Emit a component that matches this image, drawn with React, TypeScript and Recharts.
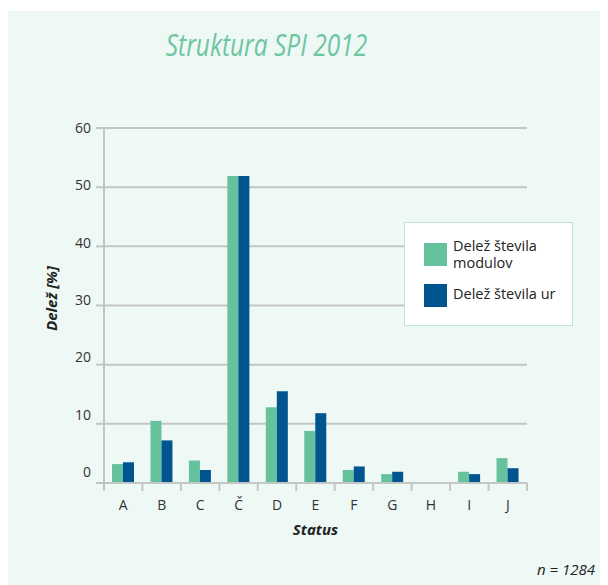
import { BarChart, Bar, XAxis, YAxis, CartesianGrid, Legend, Label } from "recharts";

const categories = ["A", "B", "C", "Č", "D", "E", "F", "G", "H", "I", "J"];
const moduleShare = [3.2, 10.5, 3.8, 51.9, 12.8, 8.8, 2.2, 1.5, 0, 1.9, 4.2];
const hourShare = [3.5, 7.2, 2.2, 51.9, 15.5, 11.8, 2.8, 1.9, 0, 1.5, 2.5];
const yTicks = [0, 10, 20, 30, 40, 50, 60];
const seriesNames = ["Delež števila modulov", "Delež števila ur"];

const GREEN = "#65c29d";
const BLUE = "#005590";
const GRID = "#c3c6c5";
const TEXT = "#333";
const FONT = "'Open Sans', sans-serif";

const data = categories.map((c, i) => ({
  status: c,
  moduli: moduleShare[i],
  ure: hourShare[i],
}));

function XTick(props: any) {
  const { x, y, payload, index, visibleTicksCount } = props;
  const band = 423 / (visibleTicksCount || categories.length);
  const last = index === (visibleTicksCount || categories.length) - 1;
  return (
    <g>
      <line x1={x - band / 2} x2={x - band / 2} y1={y} y2={y + 8} stroke={GRID} strokeWidth={2} />
      {last && <line x1={x + band / 2} x2={x + band / 2} y1={y} y2={y + 8} stroke={GRID} strokeWidth={2} />}
      <text x={x} y={y + 27} textAnchor="middle" fontSize={14} fill={TEXT} fontFamily={FONT}>
        {payload.value}
      </text>
    </g>
  );
}

function YTick(props: any) {
  const { x, y, payload } = props;
  const shift = -((60 - payload.value) / 10) * 1.8;
  return (
    <text x={x} y={y + shift} dy="0.35em" textAnchor="end" fontSize={14} fill={TEXT} fontFamily={FONT}>
      {payload.value}
    </text>
  );
}

function LegendBox() {
  return (
    <div
      style={{
        position: "relative",
        width: 169,
        height: 104,
        boxSizing: "border-box",
        background: "#fff",
        border: "1px solid #bfe5d6",
        fontFamily: FONT,
        fontSize: 14.5,
        lineHeight: "17px",
        color: "#222",
      }}
    >
      {seriesNames.map((name, i) => (
        <div key={name} style={{ position: "absolute", left: 19, top: i === 0 ? 20 : 61 }}>
          <div
            style={{
              position: "absolute",
              left: 0,
              top: 0,
              width: 23,
              height: 23,
              background: i === 0 ? GREEN : BLUE,
            }}
          />
          <div style={{ position: "absolute", left: 29, top: i === 0 ? -6 : 1, width: i === 0 ? 100 : 130 }}>
            {name}
          </div>
        </div>
      ))}
    </div>
  );
}

export default function App() {
  return (
    <div style={{ paddingTop: 3 }}>
      <div style={{ position: "relative", width: 600, height: 574, background: "#eef8f5" }}>
        <div
          style={{
            position: "absolute",
            left: 0,
            width: 517,
            top: 18,
            textAlign: "center",
            fontFamily: FONT,
            fontStyle: "italic",
            fontSize: 31,
            lineHeight: "31px",
            color: "#6cc6a0",
          }}
        >
          <span style={{ display: "inline-block", transform: "scaleX(0.79)", transformOrigin: "center" }}>
            Struktura SPI 2012
          </span>
        </div>
        <BarChart
          width={600}
          height={574}
          data={data}
          margin={{ top: 117, right: 81, bottom: 72, left: 46 }}
          barGap={0}
          barSize={11}
        >
          <CartesianGrid vertical={false} stroke={GRID} strokeWidth={2} />
          <XAxis
            dataKey="status"
            height={30}
            tickSize={0}
            tickMargin={0}
            tickLine={false}
            axisLine={{ stroke: GRID, strokeWidth: 2 }}
            tick={<XTick />}
            interval={0}
          >
            <Label
              content={({ viewBox }: any) => (
                <text
                  x={viewBox.x + viewBox.width / 2}
                  y={viewBox.y + 52}
                  textAnchor="middle"
                  fontSize={15}
                  fontWeight="bold"
                  fontStyle="italic"
                  fill="#222"
                  fontFamily={FONT}
                >
                  Status
                </text>
              )}
            />
          </XAxis>
          <YAxis
            width={50}
            domain={[0, 60]}
            ticks={yTicks}
            interval={0}
            tickSize={8}
            tickMargin={5}
            tickLine={{ stroke: GRID, strokeWidth: 2 }}
            axisLine={{ stroke: GRID, strokeWidth: 2 }}
            tick={<YTick />}
          >
            <Label
              content={({ viewBox }: any) => {
                const cx = viewBox.x - 3;
                const cy = viewBox.y + viewBox.height / 2 - 7;
                return (
                  <text
                    x={cx}
                    y={cy}
                    transform={`rotate(-90 ${cx} ${cy})`}
                    textAnchor="middle"
                    dominantBaseline="central"
                    fontSize={15}
                    fontWeight="bold"
                    fontStyle="italic"
                    fill="#222"
                    fontFamily={FONT}
                  >
                    Delež [%]
                  </text>
                );
              }}
            />
          </YAxis>
          <Legend
            layout="vertical"
            align="center"
            verticalAlign="middle"
            wrapperStyle={{ left: 396, top: 211, width: 169, height: 104 }}
            content={() => <LegendBox />}
          />
          <Bar dataKey="moduli" name={seriesNames[0]} fill={GREEN} isAnimationActive={false} />
          <Bar dataKey="ure" name={seriesNames[1]} fill={BLUE} isAnimationActive={false} />
        </BarChart>
        <div
          style={{
            position: "absolute",
            right: 13,
            top: 551,
            fontFamily: FONT,
            fontStyle: "italic",
            fontSize: 15,
            lineHeight: "15px",
            color: "#222",
          }}
        >
          n = 1284
        </div>
      </div>
    </div>
  );
}
